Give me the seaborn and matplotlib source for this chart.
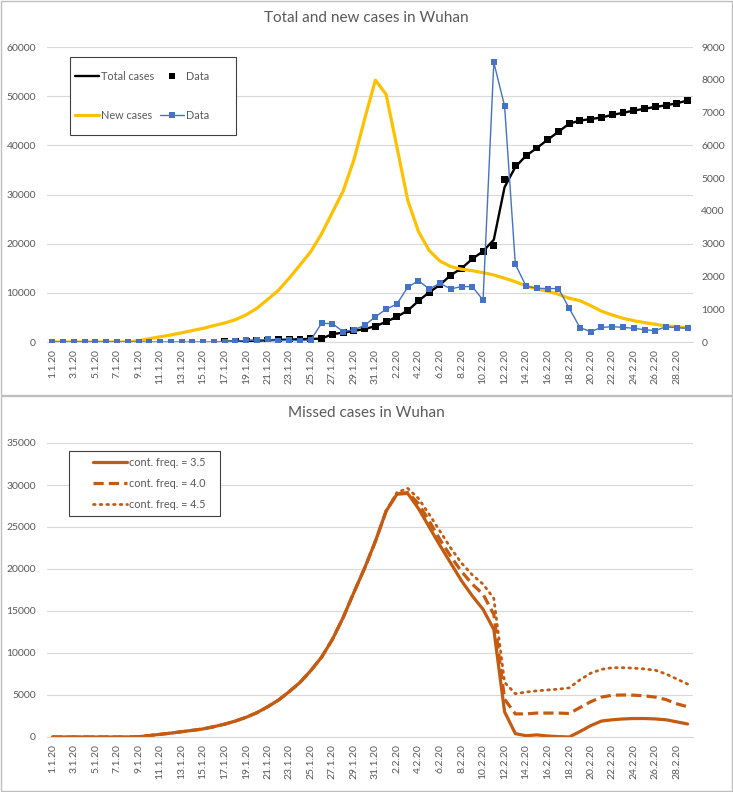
import numpy as np
import pandas as pd
import matplotlib
matplotlib.use("Agg")
import matplotlib.pyplot as plt
import seaborn as sns
from matplotlib.lines import Line2D
from matplotlib.patches import Rectangle

# ---------------- data ----------------
dates = [f"{d}.1.20" for d in range(1, 32)] + [f"{d}.2.20" for d in range(1, 30)]

NA = np.nan
total_data = [NA, NA, NA, NA, NA, NA, NA, NA, NA, NA,
              NA, NA, NA, NA, NA, NA, 62, 121, 198, 258,
              363, 425, 495, 572, 618, 698, 1590, 1905, 2261, 2639,
              3215, 4109, 5142, 6384, 8351, 10117, 11618, 13603, 14982, 16902,
              18454, 19558, 32994, 35991, 37914, 39462, 41152, 42752, 44412, 45027,
              45346, 45660, 46201, 46607, 47071, 47441, 47824, 48137, 48557, 49122]

total_model = [NA, NA, NA, NA, NA, NA, NA, NA, NA, NA,
               NA, NA, NA, NA, NA, NA, 60, 120, 200, 260,
               360, 420, 490, 570, 620, 700, 1590, 1905, 2260, 2640,
               3215, 4110, 5140, 6380, 8350, 10120, 11620, 13600, 14980, 16900,
               18450, 20800, 31500, 35600, 37900, 39460, 41150, 42750, 44410, 45030,
               45350, 45660, 46200, 46610, 47070, 47440, 47820, 48140, 48560, 49120]

new_model = [0, 0, 0, 0, 0, 0, 0, 0, 40, 100,
             160, 214, 280, 350, 417, 500, 580, 680, 830, 1030,
             1300, 1580, 1950, 2350, 2756, 3300, 3950, 4600, 5550, 6800,
             7990, 7550, 5950, 4330, 3370, 2790, 2470, 2300, 2220, 2175,
             2115, 2045, 1945, 1840, 1710, 1615, 1550, 1455, 1335, 1260,
             1110, 940, 824, 723, 650, 590, 540, 490, 468, 437]

new_data = [0, 0, 0, 0, 0, 0, 0, 0, 0, 0,
            0, 0, 0, 0, 0, 0, 10, 20, 50, 60,
            80, 40, 50, 40, 60, 570, 560, 320, 370, 510,
            770, 1000, 1160, 1670, 1870, 1620, 1790, 1620, 1690, 1690,
            1280, 8530, 7200, 2370, 1700, 1640, 1630, 1630, 1030, 440,
            315, 445, 468, 447, 417, 376, 346, 468, 437, 417]

missed_35 = [0, 0, 0, 0, 0, 0, 0, 0, 30, 170,
             320, 460, 630, 790, 960, 1230, 1530, 1900, 2350, 2900,
             3600, 4400, 5400, 6500, 7900, 9500, 11600, 14200, 17200, 20100,
             23300, 26900, 28900, 29000, 27200, 25000, 22800, 20700, 18600, 16800,
             15200, 12800, 3000, 400, 150, 250, 120, 50, 0, 650,
             1350, 1900, 2050, 2150, 2200, 2200, 2150, 2050, 1800, 1550]

missed_40 = [0, 0, 0, 0, 0, 0, 0, 0, 30, 170,
             320, 460, 630, 790, 960, 1230, 1530, 1900, 2350, 2900,
             3600, 4400, 5400, 6500, 7900, 9500, 11600, 14200, 17200, 20100,
             23300, 26900, 28950, 29100, 27800, 25700, 23500, 21500, 19700, 18200,
             17000, 14600, 4500, 2750, 2750, 2850, 2850, 2850, 2800, 3500,
             4200, 4750, 4970, 5000, 4980, 4900, 4750, 4450, 3950, 3600]

missed_45 = [0, 0, 0, 0, 0, 0, 0, 0, 30, 170,
             320, 460, 630, 790, 960, 1230, 1530, 1900, 2350, 2900,
             3600, 4400, 5400, 6500, 7900, 9500, 11600, 14200, 17200, 20100,
             23300, 26900, 29100, 29600, 28400, 26500, 24500, 22500, 20700, 19300,
             18200, 16500, 6500, 5150, 5350, 5500, 5600, 5700, 5850, 6800,
             7600, 8050, 8250, 8250, 8200, 8100, 7950, 7500, 6900, 6300]

# ---------------- style ----------------
sns.set_theme(style="white")
plt.rcParams['font.family'] = ['Lato', 'DejaVu Sans']
TXT = "#595959"
GRID = "#d9d9d9"
YEL = "#FFC000"
BLUE = "#4472C4"
ORANGE = "#C55A11"
MS = 5.0  # marker size (points)

W, H = 733, 792
fig = plt.figure(figsize=(W / 100, H / 100), dpi=100)
fig.patch.set_facecolor("white")


def fig_rect(x0, y0, x1, y1):
    """pixel box (top-left origin) -> figure-fraction (x, y, w, h)"""
    return (x0 / W, 1 - y1 / H, (x1 - x0) / W, (y1 - y0) / H)


# panel frames (outline only, behind the axes)
for (a, b, c, d) in [(1, 1, 732, 395), (1, 396, 732, 791)]:
    fx, fy, fw, fh = fig_rect(a, b, c, d)
    fig.patches.append(Rectangle((fx, fy), fw, fh, transform=fig.transFigure,
                                 facecolor="none", edgecolor="#bfbfbf", lw=1.0, zorder=-5))

x = np.arange(len(dates))
df_top = pd.DataFrame({"x": x, "total_model": total_model, "total_data": total_data,
                       "new_model": new_model, "new_data": new_data})
df_bot = pd.DataFrame({"x": x, "m35": missed_35, "m40": missed_40, "m45": missed_45})

L = 47 / W
AW = 646 / W
ax1 = fig.add_axes([L, 1 - 342 / H, AW, 295 / H])
ax2 = ax1.twinx()
ax3 = fig.add_axes([L, 1 - 737 / H, AW, 294 / H])
for a in (ax1, ax3):
    a.patch.set_alpha(0)


def style_xaxis(ax):
    ax.set_xlim(-0.5, len(dates) - 0.5)
    ax.set_xticks(x[::2])
    ax.set_xticklabels(dates[::2], rotation=90, fontsize=7.5, color=TXT)
    ax.set_xticks(np.arange(-0.5, len(dates), 2), minor=True)
    ax.tick_params(axis="x", which="major", length=0, pad=5)
    ax.tick_params(axis="x", which="minor", length=4, color=GRID, width=0.8)
    for s in ["top", "right", "left"]:
        ax.spines[s].set_visible(False)
    ax.spines["bottom"].set_color(GRID)
    ax.spines["bottom"].set_linewidth(0.8)
    ax.set_xlabel("")
    ax.set_ylabel("")


def legend_box(ax, x0, y0, x1, y1):
    fx, fy, fw, fh = fig_rect(x0, y0, x1, y1)
    r = Rectangle((fx, fy), fw, fh, transform=fig.transFigure, facecolor="white",
                  edgecolor="#404040", lw=0.8, zorder=10, clip_on=False)
    ax.add_artist(r)


def ax_frac(ax_px, px, py):
    x0, y0, x1, y1 = ax_px
    return ((px - x0) / (x1 - x0), (y1 - py) / (y1 - y0))


TOP_PX = (47, 47, 693, 342)
BOT_PX = (47, 443, 693, 737)

# ---------------- top panel ----------------
sns.lineplot(data=df_top, x="x", y="total_model", ax=ax1, color="black", lw=1.7, zorder=3)
sns.scatterplot(data=df_top, x="x", y="total_data", ax=ax1, color="black", marker="s",
                s=MS ** 2, edgecolor="none", zorder=4)
ax1.set_ylim(0, 60000)
ax1.set_yticks(np.arange(0, 60001, 10000))
ax1.set_yticklabels([str(v) for v in range(0, 60001, 10000)], fontsize=7.5, color=TXT)
ax1.tick_params(axis="y", length=0, pad=8)
ax1.grid(axis="y", color=GRID, lw=0.8)
ax1.set_axisbelow(True)
style_xaxis(ax1)

sns.lineplot(data=df_top, x="x", y="new_model", ax=ax2, color=YEL, lw=2.3, zorder=3)
sns.lineplot(data=df_top, x="x", y="new_data", ax=ax2, color=BLUE, lw=1.0, marker="s",
             markersize=MS, markeredgewidth=0, zorder=4)
ax2.set_ylim(0, 9000)
ax2.set_yticks(np.arange(0, 9001, 1000))
ax2.set_yticklabels([str(v) for v in range(0, 9001, 1000)], fontsize=7.5, color=TXT)
ax2.tick_params(axis="y", length=0, pad=6)
for s in ["top", "right", "left", "bottom"]:
    ax2.spines[s].set_visible(False)
ax2.set_ylabel("")
ax2.set_xlabel("")
ax2.grid(False)

legend_box(ax2, 70, 57, 236, 135)
handles = [Line2D([], [], color="black", lw=1.7),
           Line2D([], [], color=YEL, lw=2.3),
           Line2D([], [], color="black", marker="s", linestyle="None", markersize=MS, markeredgewidth=0),
           Line2D([], [], color=BLUE, lw=1.0, marker="s", markersize=MS, markeredgewidth=0)]
labels = ["Total cases", "New cases", "Data", "Data"]
leg = ax2.legend(handles, labels, ncol=2, loc="upper left",
                 bbox_to_anchor=ax_frac(TOP_PX, 75, 71),
                 borderaxespad=0, fontsize=7.8, labelcolor=TXT, frameon=False,
                 labelspacing=2.6, handlelength=2.25, borderpad=0,
                 handletextpad=0.15, columnspacing=0.55)
leg.set_zorder(11)

fig.text(0.5, 1 - 18 / H, "Total and new cases in Wuhan", ha="center", va="center",
         fontsize=11, color=TXT)

# ---------------- bottom panel ----------------
sns.lineplot(data=df_bot, x="x", y="m45", ax=ax3, color=ORANGE, lw=2.0,
             linestyle=(0, (0.6, 1.8)), dash_capstyle="round")
sns.lineplot(data=df_bot, x="x", y="m40", ax=ax3, color=ORANGE, lw=2.3,
             linestyle=(0, (3.2, 1.6)))
sns.lineplot(data=df_bot, x="x", y="m35", ax=ax3, color=ORANGE, lw=2.3)
ax3.set_ylim(0, 35000)
ax3.set_yticks(np.arange(0, 35001, 5000))
ax3.set_yticklabels([str(v) for v in range(0, 35001, 5000)], fontsize=7.5, color=TXT)
ax3.tick_params(axis="y", length=0, pad=8)
ax3.grid(axis="y", color=GRID, lw=0.8)
ax3.set_axisbelow(True)
style_xaxis(ax3)

legend_box(ax3, 69, 451, 220, 516)
h2 = [Line2D([], [], color=ORANGE, lw=2.3),
      Line2D([], [], color=ORANGE, lw=2.3, linestyle=(0, (3.2, 1.6))),
      Line2D([], [], color=ORANGE, lw=2.0, linestyle=(0, (0.6, 1.8)), dash_capstyle="round")]
l2 = ["cont. freq. = 3.5", "cont. freq. = 4.0", "cont. freq. = 4.5"]
leg2 = ax3.legend(h2, l2, loc="upper left", bbox_to_anchor=ax_frac(BOT_PX, 93, 457),
                  borderaxespad=0, fontsize=7.8, labelcolor=TXT, frameon=False,
                  labelspacing=0.9, handlelength=3.15, borderpad=0,
                  handletextpad=0.2)
leg2.set_zorder(11)

fig.text(0.5, 1 - 413 / H, "Missed cases in Wuhan", ha="center", va="center",
         fontsize=11, color=TXT)

fig.savefig("out.png", dpi=100, facecolor="white")
